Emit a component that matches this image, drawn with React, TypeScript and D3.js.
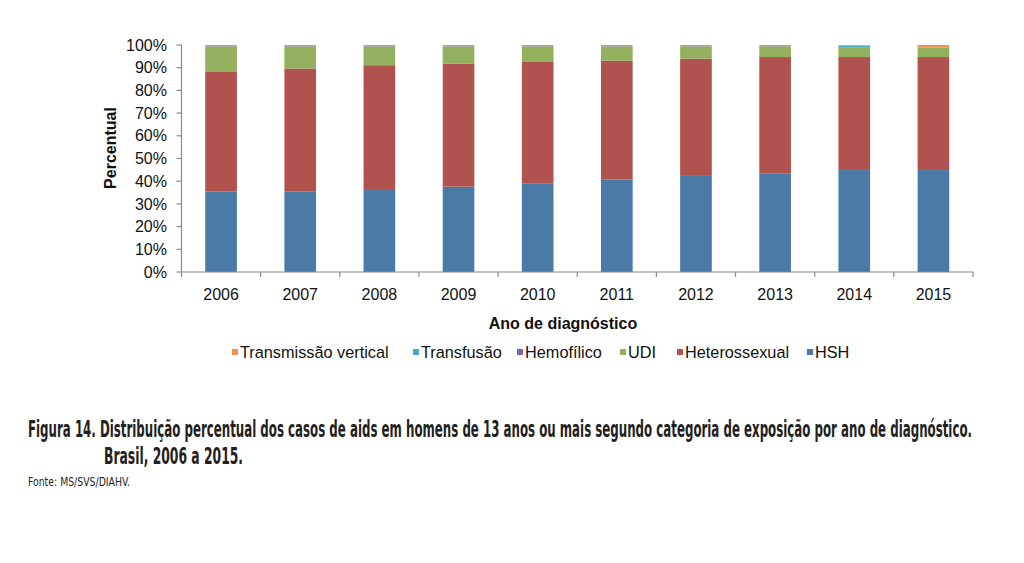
import React, { useLayoutEffect, useRef, useState } from "react";
import * as d3 from "d3";

const years = ["2006", "2007", "2008", "2009", "2010", "2011", "2012", "2013", "2014", "2015"];
const seriesNames = ["HSH", "Heterossexual", "UDI", "Hemofílico", "Transfusão", "Transmissão vertical"];
const hsh = [35.4, 35.4, 36.1, 37.6, 39.1, 40.8, 42.7, 43.5, 44.9, 44.9];
const heterossexual = [53.0, 54.2, 55.0, 54.2, 53.4, 52.3, 51.3, 51.2, 49.8, 49.8];
const udi = [11.0, 9.8, 8.3, 7.6, 6.9, 6.3, 5.4, 4.7, 4.1, 4.1];
const hemofilico = [0.1, 0.1, 0.1, 0.1, 0.1, 0.1, 0.1, 0.1, 0.2, 0.1];
const transfusao = [0.05, 0.05, 0.05, 0.05, 0.05, 0.05, 0.05, 0.05, 0.8, 0.1];
const transmissaoVertical = [0.45, 0.45, 0.45, 0.45, 0.45, 0.45, 0.45, 0.45, 0.2, 1.0];
const yTicks = [0, 10, 20, 30, 40, 50, 60, 70, 80, 90, 100];
const legendOrder = ["Transmissão vertical", "Transfusão", "Hemofílico", "UDI", "Heterossexual", "HSH"];
const colors: Record<string, string> = {
  HSH: "#4a7ba7",
  Heterossexual: "#b0534e",
  UDI: "#93b05f",
  "Hemofílico": "#7e649e",
  "Transfusão": "#4baac4",
  "Transmissão vertical": "#e8954f",
};
const captionLine1 =
  "Figura 14. Distribuição percentual dos casos de aids em homens de 13 anos ou mais segundo categoria de exposição por ano de diagnóstico.";
const captionLine2 = "Brasil, 2006 a 2015.";
const sourceText = "Fonte: MS/SVS/DIAHV.";

const seriesValues: Record<string, number[]> = {
  HSH: hsh,
  Heterossexual: heterossexual,
  UDI: udi,
  "Hemofílico": hemofilico,
  "Transfusão": transfusao,
  "Transmissão vertical": transmissaoVertical,
};

function FitText(props: {
  x: number;
  y: number;
  width: number;
  text: string;
  fontSize: number;
  fontFamily: string;
  fontWeight?: string;
  fill: string;
}) {
  const ref = useRef<SVGTextElement>(null);
  const [sx, setSx] = useState(0.5);
  useLayoutEffect(() => {
    if (ref.current) {
      const w = ref.current.getComputedTextLength();
      if (w > 0) setSx(props.width / w);
    }
  }, [props.text, props.width]);
  return (
    <g transform={`translate(${props.x},${props.y}) scale(${sx},1)`}>
      <text
        ref={ref}
        x={0}
        y={0}
        fontFamily={props.fontFamily}
        fontWeight={props.fontWeight || "normal"}
        fontSize={props.fontSize}
        fill={props.fill}
      >
        {props.text}
      </text>
    </g>
  );
}

export default function App() {
  const left = 181.5;
  const right = 973;
  const top = 45;
  const bottom = 272;
  const x = d3.scaleBand<string>().domain(years).range([left, right]).paddingInner(0.6).paddingOuter(0.3);
  const xOuter = d3.scaleBand<string>().domain(years).range([left, right]);
  const y = d3.scaleLinear().domain([0, 1]).range([bottom, top]);
  const table = years.map((yr, i) => {
    const row: Record<string, number | string> = { year: yr };
    seriesNames.forEach((s) => (row[s] = seriesValues[s][i]));
    return row;
  });
  const stack = d3.stack<any>().keys(seriesNames).offset(d3.stackOffsetExpand);
  const stacked = stack(table as any);
  const font = "Liberation Sans, Arial, Helvetica, sans-serif";
  const capFont = "DejaVu Sans Condensed, Liberation Sans Narrow, Arial Narrow, sans-serif";
  const axisColor = "#8a8a8a";

  const legendX: Record<string, number> = {
    "Transmissão vertical": 232,
    "Transfusão": 413,
    "Hemofílico": 517,
    UDI: 620,
    Heterossexual: 677,
    HSH: 807,
  };

  return (
    <svg width={1024} height={563} style={{ position: "absolute", left: 0, top: 0, background: "#fff" }}>
      <rect x={0} y={0} width={1024} height={563} fill="#fff" />
      {stacked.map((layer) => (
        <g key={layer.key} fill={colors[layer.key]}>
          {layer.map((d, i) => (
            <rect
              key={i}
              x={x(years[i])}
              width={x.bandwidth()}
              y={y(d[1])}
              height={Math.max(0, y(d[0]) - y(d[1]))}
            />
          ))}
        </g>
      ))}
      {/* y axis */}
      <line x1={left} x2={left} y1={top} y2={bottom} stroke={axisColor} strokeWidth={1.2} />
      {yTicks.map((t) => (
        <g key={t}>
          <line x1={left - 5} x2={left} y1={y(t / 100)} y2={y(t / 100)} stroke={axisColor} strokeWidth={1.2} />
          <text x={167} y={y(t / 100)} dy="0.35em" textAnchor="end" fontFamily={font} fontSize={16} fill="#111">
            {t}%
          </text>
        </g>
      ))}
      {/* x axis */}
      <line x1={left} x2={right} y1={bottom} y2={bottom} stroke={axisColor} strokeWidth={1.2} />
      {years.map((yr) => (
        <line
          key={"t" + yr}
          x1={xOuter(yr)!}
          x2={xOuter(yr)!}
          y1={bottom}
          y2={bottom + 5}
          stroke={axisColor}
          strokeWidth={1.2}
        />
      ))}
      <line x1={right} x2={right} y1={bottom} y2={bottom + 5} stroke={axisColor} strokeWidth={1.2} />
      {years.map((yr) => (
        <text
          key={"l" + yr}
          x={xOuter(yr)! + xOuter.bandwidth() / 2}
          y={294}
          dy="0.35em"
          textAnchor="middle"
          fontFamily={font}
          fontSize={16}
          fill="#111"
        >
          {yr}
        </text>
      ))}
      <text
        x={563}
        y={323}
        dy="0.35em"
        textAnchor="middle"
        fontFamily={font}
        fontWeight="bold"
        fontSize={16}
        fill="#111"
      >
        Ano de diagnóstico
      </text>
      <text
        transform="translate(110,148) rotate(-90)"
        dy="0.35em"
        textAnchor="middle"
        fontFamily={font}
        fontWeight="bold"
        fontSize={16}
        fill="#111"
      >
        Percentual
      </text>
      {/* legend */}
      {legendOrder.map((s) => (
        <g key={s}>
          <rect x={legendX[s]} y={349} width={6} height={6} fill={colors[s]} />
          <text x={legendX[s] + 8} y={352} dy="0.35em" fontFamily={font} fontSize={16.3} fill="#111">
            {s}
          </text>
        </g>
      ))}
      {/* caption */}
      <FitText x={28} y={437} width={944} text={captionLine1} fontFamily={capFont} fontWeight="bold" fontSize={23} fill="#231f20" />
      <FitText x={104} y={464} width={139} text={captionLine2} fontFamily={capFont} fontWeight="bold" fontSize={23} fill="#231f20" />
      <FitText x={28} y={486} width={102} text={sourceText} fontFamily={capFont} fontSize={13} fill="#231f20" />
    </svg>
  );
}
